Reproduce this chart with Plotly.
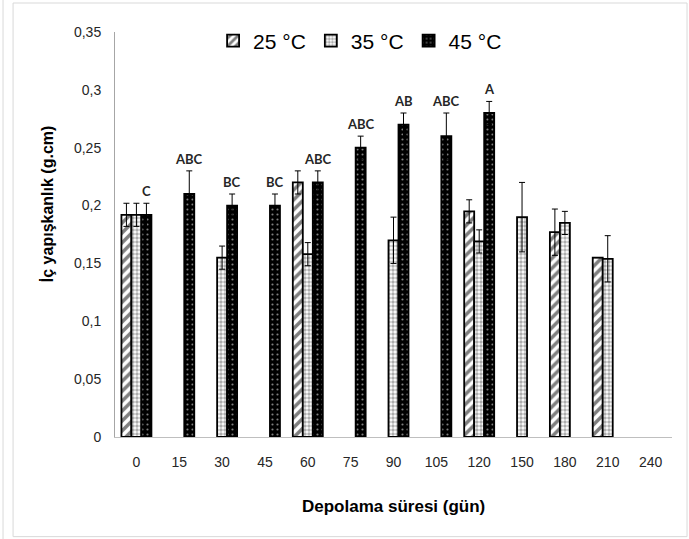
import plotly.graph_objects as go

categories = ["0", "15", "30", "45", "60", "75", "90", "105", "120", "150", "180", "210", "240"]
series_names = ["25 °C", "35 °C", "45 °C"]
vals_25 = [0.192, None, None, None, 0.220, None, None, None, 0.195, None, 0.177, 0.155, None]
err_25 = [0.010, None, None, None, 0.010, None, None, None, 0.010, None, 0.020, 0.0, None]
vals_35 = [0.192, None, 0.155, None, 0.158, None, 0.170, None, 0.169, 0.190, 0.185, 0.154, None]
err_35 = [0.010, None, 0.010, None, 0.010, None, 0.020, None, 0.010, 0.030, 0.010, 0.020, None]
vals_45 = [0.192, 0.210, 0.200, 0.200, 0.220, 0.250, 0.270, 0.260, 0.280, None, None, None, None]
err_45 = [0.010, 0.020, 0.010, 0.010, 0.010, 0.010, 0.010, 0.020, 0.010, None, None, None, None]
letters_45 = ["C", "ABC", "BC", "BC", "ABC", "ABC", "AB", "ABC", "A", "", "", "", ""]
y_tick_vals = [0, 0.05, 0.10, 0.15, 0.20, 0.25, 0.30, 0.35]
y_tick_text = ["0", "0,05", "0,1", "0,15", "0,2", "0,25", "0,3", "0,35"]
x_title = "Depolama süresi (gün)"
y_title = "İç yapışkanlık (g.cm)"

BARGAP = 0.3
TEXT = "#262626"

styles = [
    dict(shape="/", fgcolor="black", bgcolor="white", size=7, solidity=0.5),
    dict(shape=".", fgcolor="#5a5a5a", bgcolor="white", size=4, solidity=0.6),
    dict(shape=".", fgcolor="white", bgcolor="black", size=5, solidity=0.15),
]

fig = go.Figure()
for name, vals, errs, st in zip(series_names, [vals_25, vals_35, vals_45], [err_25, err_35, err_45], styles):
    fig.add_trace(go.Bar(
        x=categories, y=vals, name=name,
        marker=dict(color=st["bgcolor"], line=dict(color="black", width=1.8),
                    pattern=dict(shape=st["shape"], fgcolor=st["fgcolor"], bgcolor=st["bgcolor"],
                                 size=st["size"], solidity=st["solidity"])),
        error_y=dict(type="data", array=[e if e is not None else 0 for e in errs],
                     visible=True, color="black", thickness=1, width=3),
    ))

bar_w = (1 - BARGAP) / 3
for i, (v, e, t) in enumerate(zip(vals_45, err_45, letters_45)):
    if v is None or not t:
        continue
    fig.add_annotation(x=i + bar_w, y=v + e, xref="x", yref="y", text="<b>" + t + "</b>",
                       showarrow=False, yanchor="bottom", yshift=2,
                       font=dict(family="Lato, Open Sans, sans-serif", size=13, color=TEXT))

# axis titles
fig.add_annotation(x=0.5, y=-0.172, xref="paper", yref="paper", text="<b>" + x_title + "</b>",
                   showarrow=False, yanchor="middle", xanchor="center",
                   font=dict(family="Liberation Sans, Arial", size=17, color="black"))
fig.add_annotation(x=-0.122, y=0.575, xref="paper", yref="paper", text="<b>" + y_title + "</b>",
                   showarrow=False, textangle=-90, yanchor="middle", xanchor="center",
                   font=dict(family="Liberation Sans, Arial", size=16, color="black"))

# chart-area frame
fig.add_shape(type="rect", xref="paper", yref="paper", x0=-0.183, x1=1.027, y0=-0.246, y1=1.0716,
              line=dict(color="#d9d9d9", width=1))
fig.add_shape(type="line", xref="paper", yref="paper", x0=-0.201, x1=-0.201, y0=-0.26, y1=1.09,
              line=dict(color="#d9d9d9", width=1))

fig.update_layout(
    width=689, height=539,
    margin=dict(l=115, r=17, t=32, b=102),
    paper_bgcolor="white", plot_bgcolor="white",
    barmode="group", bargap=BARGAP, bargroupgap=0,
    font=dict(family="Liberation Sans, Arial", color=TEXT, size=14),
    showlegend=True,
    legend=dict(orientation="h", x=0.44, y=0.978, xanchor="center", yanchor="middle",
                font=dict(size=21, color="black"), itemwidth=30, bgcolor="rgba(0,0,0,0)",
                traceorder="normal"),
)
fig.update_xaxes(type="category", showline=True, linecolor="#bfbfbf", linewidth=1,
                 showgrid=False, ticks="", ticklabelstandoff=12,
                 tickfont=dict(size=14, color=TEXT))
fig.update_yaxes(range=[0, 0.35], showline=True, linecolor="#a6a6a6", linewidth=1,
                 showgrid=False, ticks="", tickvals=y_tick_vals, ticktext=y_tick_text,
                 ticklabelstandoff=10, tickfont=dict(size=14, color=TEXT), zeroline=False)

fig.write_html("out.html")
